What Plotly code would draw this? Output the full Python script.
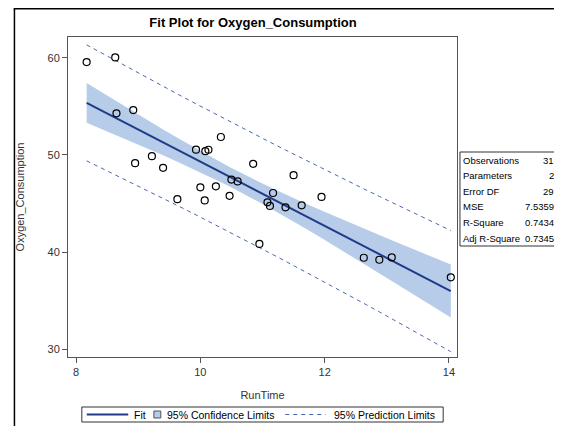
"""
Fit plot: Oxygen_Consumption regressed on RunTime with 95% confidence
and prediction limits plus a small fit statistics table.
"""

import numpy as np
import plotly.graph_objects as go

# observed data (fitness study)
run_time = [11.37, 10.07, 8.65, 8.17, 9.22, 11.63, 11.95, 10.85, 13.08, 8.63,
            10.13, 14.03, 11.12, 10.60, 10.33, 8.95, 10.95, 10.00, 10.25, 10.08,
            12.63, 11.17, 9.63, 8.92, 11.08, 12.88, 10.47, 9.93, 9.40, 11.50, 10.50]
oxygen = [44.609, 45.313, 54.297, 59.571, 49.874, 44.811, 45.681, 49.091, 39.442, 60.055,
          50.541, 37.388, 44.754, 47.273, 51.855, 49.156, 40.836, 46.672, 46.774, 50.388,
          39.407, 46.080, 45.441, 54.625, 45.118, 39.203, 45.790, 50.545, 48.673, 47.920, 47.467]

stat_labels = ['Observations', 'Parameters', 'Error DF', 'MSE', 'R-Square', 'Adj R-Square']
stat_values = ['31', '2', '29', '7.5359', '0.7434', '0.7345']

legend_labels = ['Fit', '95% Confidence Limits', '95% Prediction Limits']

x_ticks = [8, 10, 12, 14]
y_ticks = [30, 40, 50, 60]

T_975_29 = 2.045229642  # t quantile, 29 df

# Simple linear regression
x = np.array(run_time)
y = np.array(oxygen)
n = len(x)
slope, intercept = np.polyfit(x, y, 1)
resid = y - (intercept + slope * x)
mse = np.sum(resid ** 2) / (n - 2)
sxx = np.sum((x - x.mean()) ** 2)

xs = np.unique(np.sort(x))
fit = intercept + slope * xs
se_mean = np.sqrt(mse * (1 / n + (xs - x.mean()) ** 2 / sxx))
se_pred = np.sqrt(mse * (1 + 1 / n + (xs - x.mean()) ** 2 / sxx))
clm_lo, clm_hi = fit - T_975_29 * se_mean, fit + T_975_29 * se_mean
pl_lo, pl_hi = fit - T_975_29 * se_pred, fit + T_975_29 * se_pred

FONT = 'Liberation Sans, Arial, sans-serif'
FIT_COLOR = '#1F3C88'
BAND_COLOR = '#B7CCE9'
PRED_COLOR = '#4A68AC'
DASH = '4px,4px'

fig = go.Figure()

# Confidence band
fig.add_trace(go.Scatter(x=xs, y=clm_lo, mode='lines', line=dict(width=0),
                         hoverinfo='skip'))
fig.add_trace(go.Scatter(x=xs, y=clm_hi, mode='lines', line=dict(width=0),
                         fill='tonexty', fillcolor=BAND_COLOR, hoverinfo='skip'))

# Prediction limits
fig.add_trace(go.Scatter(x=xs, y=pl_hi, mode='lines',
                         line=dict(color=PRED_COLOR, width=1, dash=DASH)))
fig.add_trace(go.Scatter(x=xs, y=pl_lo, mode='lines',
                         line=dict(color=PRED_COLOR, width=1, dash=DASH)))

# Fit line
fig.add_trace(go.Scatter(x=xs, y=fit, mode='lines',
                         line=dict(color=FIT_COLOR, width=2)))

# Observations
fig.add_trace(go.Scatter(x=run_time, y=oxygen, mode='markers',
                         marker=dict(symbol='circle-open', size=7, color='black',
                                     line=dict(width=1.2))))

# page sits inside an 8px body margin; geometry below is in page pixels
OFF = 8
W, H = 562 - OFF, 426 - OFF
L, R, T, B = 63 - OFF, 457 - OFF, 37 - OFF, 357 - OFF


def px(xp):
    return (xp - OFF - L) / (R - L)


def py(yp):
    return (B - (yp - OFF)) / (B - T)


def paper_line(x0, y0, x1, y1, color, width=1, dash=None):
    return dict(type='line', xref='paper', yref='paper',
                x0=px(x0), x1=px(x1), y0=py(y0), y1=py(y1),
                line=dict(color=color, width=width, dash=dash))


def paper_rect(x0, y0, x1, y1, color, fill=None):
    return dict(type='rect', xref='paper', yref='paper',
                x0=px(x0), x1=px(x1), y0=py(y1), y1=py(y0),
                line=dict(color=color, width=1), fillcolor=fill)


def paper_text(xp, yp, text, anchor, size):
    return dict(xref='paper', yref='paper', x=px(xp), y=py(yp), text=text,
                showarrow=False, xanchor=anchor, yanchor='middle', borderpad=0,
                font=dict(size=size, color='black', family=FONT))


shapes = [
    # outer frame (top & left only visible)
    paper_line(OFF + 0.75, 500, OFF + 0.75, OFF + 0.75, 'black', 1.5),
    paper_line(OFF, OFF + 0.75, 600, OFF + 0.75, 'black', 1.5),
    # stats table box
    paper_rect(460, 152, 557, 246, '#333333'),
    # legend box and symbols
    paper_rect(77, 407, 443, 422, '#333333', 'white'),
    paper_line(82, 414.5, 124, 414.5, FIT_COLOR, 2),
    paper_rect(150, 411, 157, 418, '#555555', BAND_COLOR),
    paper_line(283, 414.5, 324, 414.5, PRED_COLOR, 1, DASH),
]

annotations = []
for i, (lab, val) in enumerate(zip(stat_labels, stat_values)):
    yc = 160 + i * 15.6
    annotations.append(paper_text(462, yc, lab, 'left', 9.5))
    annotations.append(paper_text(556, yc, val, 'right', 9.5))

for xp, lab in zip([129, 162, 331], legend_labels):
    annotations.append(paper_text(xp, 415, lab, 'left', 10.5))

fig.update_layout(
    width=W, height=H,
    margin=dict(l=L, r=W - R, t=T, b=H - B),
    paper_bgcolor='white', plot_bgcolor='white',
    font=dict(family=FONT, size=11, color='#333333'),
    title=dict(text='<b>Fit Plot for Oxygen_Consumption</b>', x=(253 - OFF) / W,
               xanchor='center', y=1 - (22 - OFF) / H, yanchor='middle',
               font=dict(size=13, color='black', family=FONT)),
    showlegend=False,
    shapes=shapes,
    annotations=annotations,
)

fig.update_xaxes(range=[7.87, 14.13], tickvals=x_ticks, ticks='outside', ticklen=5,
                 tickcolor='#555555', showline=True, linecolor='#555555', mirror=True,
                 showgrid=False, zeroline=False,
                 title=dict(text='RunTime', font=dict(size=11, color='#333333'), standoff=14))
fig.update_yaxes(range=[29.18, 62.16], tickvals=y_ticks, ticks='outside', ticklen=5,
                 tickcolor='#555555', showline=True, linecolor='#555555', mirror=True,
                 showgrid=False, zeroline=False,
                 title=dict(text='Oxygen_Consumption', font=dict(size=11, color='#333333'),
                            standoff=20))

fig.write_html("out.html")
